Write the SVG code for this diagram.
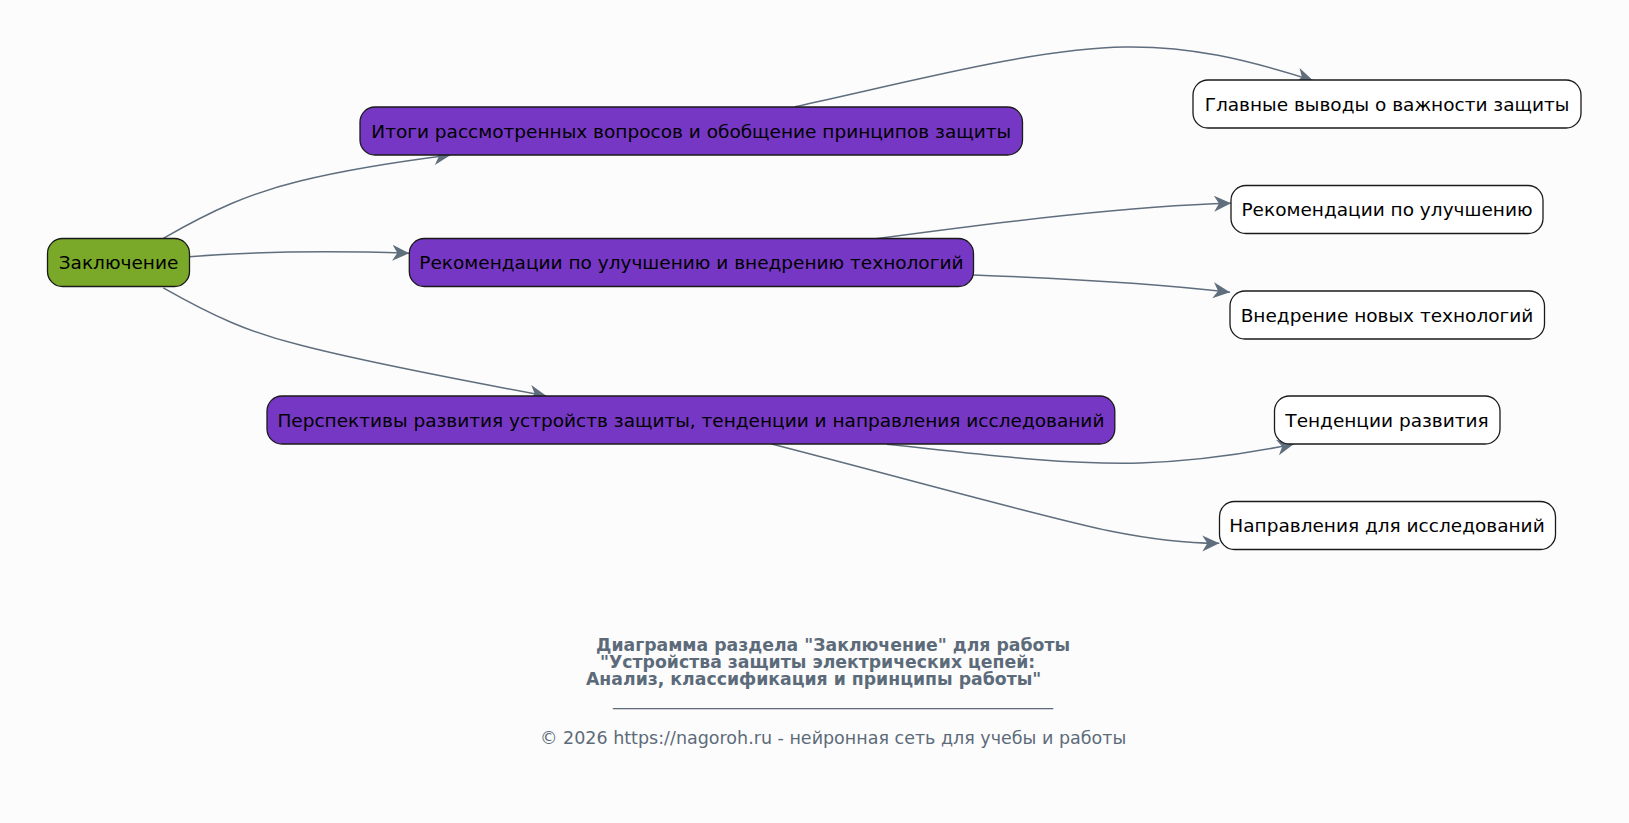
<svg xmlns="http://www.w3.org/2000/svg" width="1629" height="823" viewBox="0 0 1629 823">
<defs>
<style>
.node rect{stroke:#1a1a1a;stroke-width:1.3}
.root rect{fill:#7aa92a}
.mid rect{fill:#7637c4}
.leaf rect{fill:#ffffff}
.node text{font-family:"DejaVu Sans",sans-serif;font-size:18.5px;fill:#000;text-anchor:middle}
.edges path{fill:none;stroke:#5f6e7d;stroke-width:1.5}
.foot{font-family:"DejaVu Sans",sans-serif;fill:#5c6b7a}
.fb{font-weight:bold;font-size:17.3px}
.fr{font-size:17.5px}
</style>
<marker id="vee" markerUnits="userSpaceOnUse" markerWidth="20" markerHeight="18" refX="17" refY="8" orient="auto" viewBox="0 0 20 18">
<path d="M0,0 L17,8 L0,16 L5,8 Z" fill="#5f6e7d"/>
</marker>
</defs>
<rect width="1629" height="823" fill="#fcfcfc"/>
<g class="edges">
<path d="M163.3,238.3 C213,210 250,193 300,181 C345,170 395,162 450.7,155" marker-end="url(#vee)"/>
<path d="M189.3,256.7 C255,251.5 325,250.5 409.3,253.3" marker-end="url(#vee)"/>
<path d="M163.3,287.8 C213,316 250,333 300,345 C365,362 455,379 546.5,396" marker-end="url(#vee)"/>
<path d="M795,106.7 C905,83 1035,48 1125,47 C1190,46 1245,59 1313.3,80.7" marker-end="url(#vee)"/>
<path d="M873.7,239 C1000,222 1130,206 1231,203.3" marker-end="url(#vee)"/>
<path d="M973.5,275 C1080,279 1160,284 1230,292.3" marker-end="url(#vee)"/>
<path d="M886.7,444.3 C970,453 1060,465 1140,463 C1200,461 1250,453 1294,444" marker-end="url(#vee)"/>
<path d="M771.7,444 C900,477 1050,519 1110,531 C1150,539 1185,543.5 1219.3,543.3" marker-end="url(#vee)"/>
</g>
<g id="n-root" class="node root"><rect x="47.5" y="238.5" width="142" height="48" rx="15"/><text x="118.5" y="269">Заключение</text></g>
<g id="n-itogi" class="node mid"><rect x="360" y="107" width="662.5" height="48" rx="15"/><text x="691.2" y="137.5">Итоги рассмотренных вопросов и обобщение принципов защиты</text></g>
<g id="n-rek" class="node mid"><rect x="409.3" y="238.5" width="564.2" height="48" rx="15"/><text x="691.4" y="269">Рекомендации по улучшению и внедрению технологий</text></g>
<g id="n-persp" class="node mid"><rect x="267" y="396" width="847.8" height="48" rx="15"/><text x="690.9" y="426.5">Перспективы развития устройств защиты, тенденции и направления исследований</text></g>
<g id="n-glav" class="node leaf"><rect x="1193" y="80" width="388" height="48" rx="15"/><text x="1387" y="110.5">Главные выводы о важности защиты</text></g>
<g id="n-rekul" class="node leaf"><rect x="1231" y="185.5" width="312" height="48" rx="15"/><text x="1387" y="216">Рекомендации по улучшению</text></g>
<g id="n-vned" class="node leaf"><rect x="1230" y="291" width="314.5" height="48" rx="15"/><text x="1387" y="321.5">Внедрение новых технологий</text></g>
<g id="n-tend" class="node leaf"><rect x="1274.5" y="396" width="225.5" height="48" rx="15"/><text x="1387" y="426.5">Тенденции развития</text></g>
<g id="n-napr" class="node leaf"><rect x="1219.5" y="501.5" width="336" height="48" rx="15"/><text x="1387" y="532">Направления для исследований</text></g>
<g id="footer" class="foot">
<text class="fb" x="596" y="650.5">Диаграмма раздела "Заключение" для работы</text>
<text class="fb" x="600" y="667.5">"Устройства защиты электрических цепей:</text>
<text class="fb" x="586" y="684.5">Анализ, классификация и принципы работы"</text>
<text class="fr" x="613" y="705" textLength="440" lengthAdjust="spacingAndGlyphs">_______________________________________________________</text>
<text class="fr" x="540" y="744.3">© 2026 https://nagoroh.ru - нейронная сеть для учебы и работы</text>
</g>
</svg>
